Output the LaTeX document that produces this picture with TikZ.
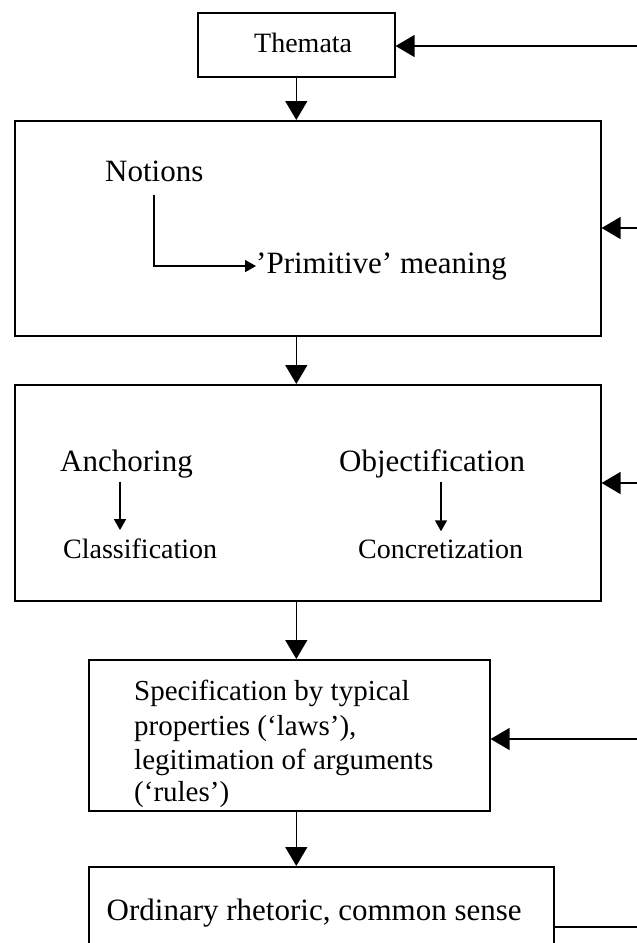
\documentclass[tikz,border=0pt]{standalone}
\usepackage{fontspec}
\setmainfont{Liberation Serif}
\usetikzlibrary{arrows.meta}
\begin{document}
\begin{tikzpicture}[x=1pt,y=-1pt,
  box/.style={draw, line width=1.6pt, anchor=north west, inner sep=0pt},
  conn/.style={line width=1.5pt},
  big/.style={conn, -{Triangle[length=19pt,width=22pt]}},
  small/.style={conn, -{Triangle[length=11pt,width=12pt]}},
  lbl/.style={inner sep=0pt, anchor=base west, font=\fontsize{31}{36}\selectfont},
  slbl/.style={inner sep=0pt, anchor=base west, font=\fontsize{28}{34}\selectfont},
  mlbl/.style={inner sep=0pt, anchor=base west, font=\fontsize{29}{34}\selectfont}]
\useasboundingbox (0,0) rectangle (637,943);
\clip (0,0) rectangle (637,943);

% boxes
\node[box, minimum width=197pt, minimum height=64pt] (themata) at (197,12) {};
\node[box, minimum width=586pt, minimum height=215pt] (box2) at (14,120) {};
\node[box, minimum width=586pt, minimum height=216pt] (box3) at (14,384) {};
\node[box, minimum width=401pt, minimum height=151pt] (box4) at (88,659) {};
\node[box, minimum width=465pt, minimum height=120pt] (box5) at (88,866) {};

% texts
\node[slbl] (thematat) at (254,52) {Themata};
\node[lbl] (notions) at (105,181) {Notions};
\node[lbl] (primitive) at (256,273) {’Primitive’ meaning};
\node[lbl] (anchoring) at (60,471.7) {Anchoring};
\node[slbl] (classification) at (63,558) {Classification};
\node[lbl] (objectification) at (339,471.7) {Objectification};
\node[slbl] (concretization) at (358,558) {Concretization};
\node[mlbl] (spec1) at (134,700.7) {Specification by typical};
\node[mlbl] (spec2) at (134,735) {properties (‘laws’),};
\node[mlbl] (spec3) at (134,769) {legitimation of arguments};
\node[mlbl] (spec4) at (134,801) {(‘rules’)};
\node[lbl] (ordinary) at (106.5,920) {Ordinary rhetoric, common sense};

% inner arrows
\draw[small] ([xshift=49pt,yshift=-13pt]notions.south west) |- (primitive.west);
\draw[small] ([xshift=60pt,yshift=-10pt]anchoring.base west) -- ([xshift=57pt,yshift=8pt]classification.north west);
\draw[small] ([xshift=102pt,yshift=-10pt]objectification.base west) -- ([xshift=83pt,yshift=8pt]concretization.north west);

% main flow
\draw[big] (themata.south) -- (themata.south |- box2.north);
\draw[big] (themata.south |- box2.south) -- (themata.south |- box3.north);
\draw[big] (themata.south |- box3.south) -- (themata.south |- box4.north);
\draw[big] (themata.south |- box4.south) -- (themata.south |- box5.north);

% feedback from the right edge
\coordinate (r1) at (637,46);
\coordinate (r2) at (637,228);
\coordinate (r3) at (637,483);
\coordinate (r4) at (637,739);
\coordinate (r5) at (637,927);
\draw[big] (r1) -- (r1 -| themata.east);
\draw[big] (r2) -- (r2 -| box2.east);
\draw[big] (r3) -- (r3 -| box3.east);
\draw[big] (r4) -- (r4 -| box4.east);
\draw[conn] (r5 -| box5.east) -- (r5);
\end{tikzpicture}
\end{document}
